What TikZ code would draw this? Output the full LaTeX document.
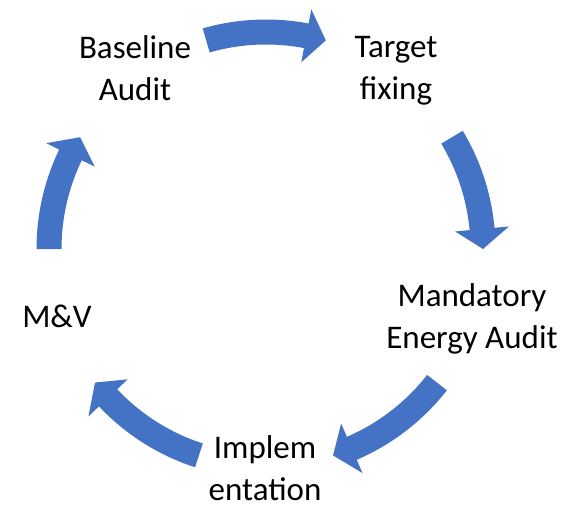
\documentclass[tikz,border=0pt]{standalone}
\usepackage{fontspec}
\setmainfont{Carlito}
\definecolor{cycleblue}{HTML}{4472C4}

\begin{document}
\begin{tikzpicture}[
  stagetext/.style={align=center, font=\fontsize{33}{42}\selectfont, inner sep=0pt},
  cyclearrow/.style={fill=cycleblue, draw=none}]
  \useasboundingbox (0,0) rectangle (576pt,-527pt);

  % curved arrows round the cycle: tail angle / tip angle
  \begin{scope}[shift={(266pt,-249pt)}]
    \foreach \a/\b in {106/74, 31/0, -38/-72, -108/-142, 180/149} {
      \pgfmathsetmacro{\h}{\b+5.3}
      \fill[cyclearrow] (\a:229.5pt) arc[start angle=\a, end angle=\h, radius=229.5pt]
        -- (\h:244pt) -- (\b:217pt) -- (\h:190pt) -- (\h:204.5pt)
        arc[start angle=\h, end angle=\a, radius=204.5pt] -- cycle;
    }
  \end{scope}

  \node[stagetext] (baseline) at (135pt,-68.5pt) {Baseline\\Audit};
  \node[stagetext] (target) at (396pt,-71pt) {Target\\fixing};
  \node[stagetext] (audit) at (472pt,-319pt) {Mandatory\\Energy Audit};
  \node[stagetext] (implem) at (265pt,-468pt) {Implem\\entation};
  \node[stagetext] (mv) at (57pt,-316.5pt) {M\&V};
\end{tikzpicture}
\end{document}
